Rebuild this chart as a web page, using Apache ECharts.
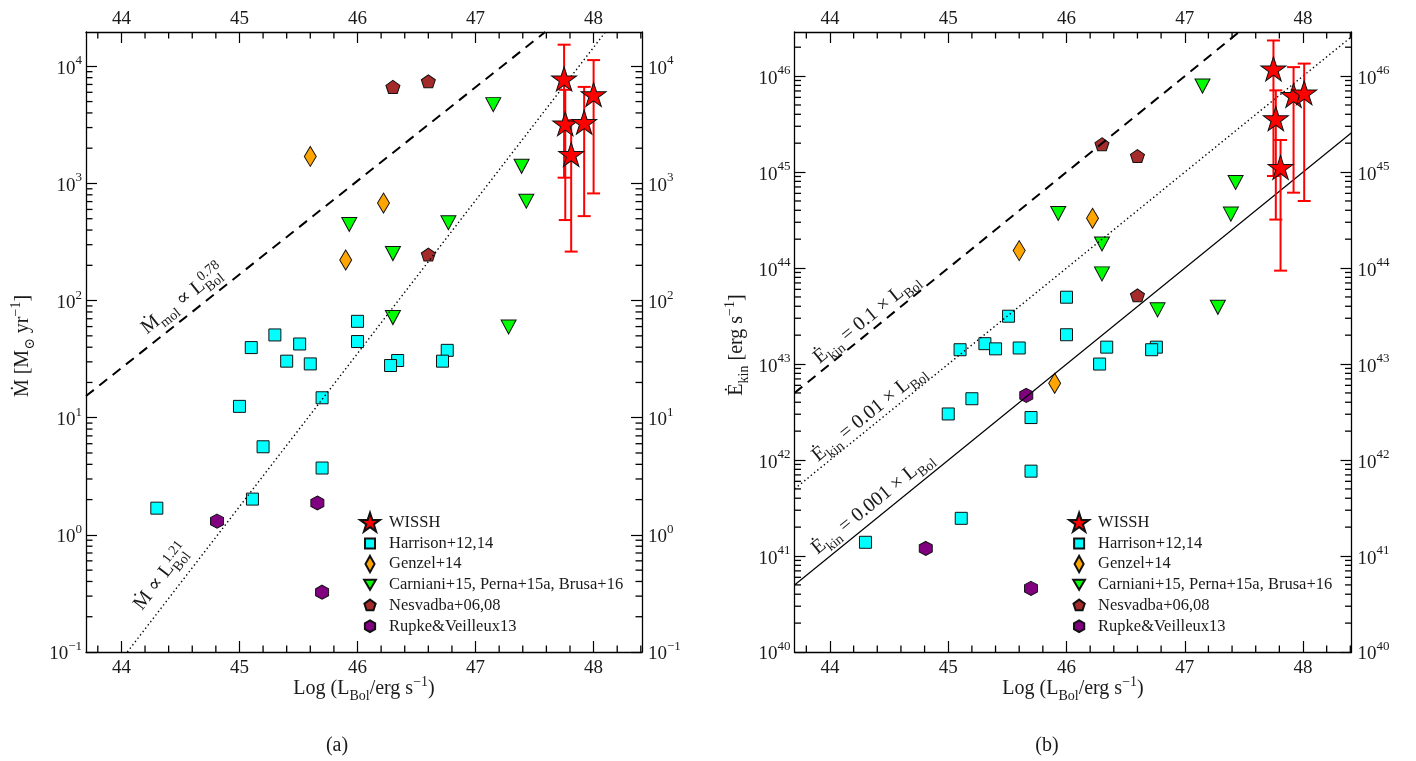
<!DOCTYPE html>
<html><head><meta charset="utf-8">
<script src="https://cdn.jsdelivr.net/npm/echarts@6/dist/echarts.min.js"></script>
<style>html,body{margin:0;padding:0;background:#fff}#c{width:1416px;height:761px}</style>
</head><body><div id="c"></div>
<script>
// ---------------- data ----------------
const xRange = [43.7, 48.41];
const yRangeMdot = [0.1, 19630];
const yRangeEkin = [1e40, 2.88e46];
const xTickLabels = [44, 45, 46, 47, 48];
const yTicksMdot = [0.1, 1, 10, 100, 1000, 10000];
const yTicksEkin = [1e40, 1e41, 1e42, 1e43, 1e44, 1e45, 1e46];

const seriesNames = ['WISSH', 'Harrison+12,14', 'Genzel+14', 'Carniani+15, Perna+15a, Brusa+16', 'Nesvadba+06,08', 'Rupke&Veilleux13'];

// panel (a): Mdot [Msun/yr]
const wisshMdot = [[47.75, 7820], [48.00, 5740], [47.76, 3230], [47.92, 3330], [47.81, 1770]];
const wisshMdotErr = [[47.75, 1120, 15300], [48.00, 822, 11300], [47.76, 487, 6300], [47.92, 526, 6670], [47.81, 262, 3470]];
const harrisonMdot = [[46.00, 66.5], [45.30, 50.9], [45.10, 39.7], [45.51, 42.6], [46.00, 44.7], [45.40, 30.4], [45.60, 28.8], [46.34, 30.8], [46.28, 27.9], [46.76, 37.6], [46.72, 30.4], [45.70, 14.8], [45.00, 12.5], [45.20, 5.65], [45.70, 3.72], [45.11, 2.02], [44.30, 1.69]];
const genzelMdot = [[45.60, 1700], [46.22, 680], [45.90, 222]];
const carnianiMdot = [[47.15, 4710], [47.39, 1400], [47.43, 706], [45.93, 447], [46.77, 462], [46.30, 252], [46.30, 71.6], [47.28, 59.6]];
const nesvadbaMdot = [[46.30, 6670], [46.60, 7450], [46.60, 247]];
const rupkeMdot = [[44.81, 1.31], [45.66, 1.87], [45.70, 0.324]];
const linesMdot = [[[43.7, 15.3], [47.59, 19630]], [[44.05, 0.1], [48.10, 19630]]];
const lineLabelPosMdot = [[44.52, 102.6], [44.34, 0.437]];
const lineLabelTextMdot = [
  [{t: 'Ṁ'}, {sub: 'mol'}, {t: ' ∝ L'}, {sup: '0.78', sub: 'Bol'}],
  [{t: 'Ṁ ∝ L'}, {sup: '1.21', sub: 'Bol'}]
];

// panel (b): Ekin [erg/s]
const wisshEkin = [[47.75, 1.19e46], [47.92, 6.3e45], [48.01, 6.7e45], [47.77, 3.6e45], [47.81, 1.12e45]];
const wisshEkinErr = [[47.75, 9.1e44, 2.35e46], [47.92, 6.1e44, 1.24e46], [48.01, 5.0e44, 1.35e46], [47.77, 3.2e44, 7.1e45], [47.81, 9.4e43, 2.16e45]];
const harrisonEkin = [[46.00, 4.97e43], [45.51, 3.15e43], [46.00, 2.02e43], [45.10, 1.41e43], [45.31, 1.63e43], [45.40, 1.44e43], [45.60, 1.47e43], [46.34, 1.5e43], [46.28, 1.0e43], [46.76, 1.5e43], [46.72, 1.41e43], [45.20, 4.35e42], [45.00, 3.02e42], [45.70, 2.77e42], [45.70, 7.66e41], [45.11, 2.47e41], [44.30, 1.39e41]];
const genzelEkin = [[45.60, 1.52e44], [46.22, 3.3e44], [45.90, 6.3e42]];
const carnianiEkin = [[47.15, 7.87e45], [47.43, 7.8e44], [47.39, 3.65e44], [45.93, 3.7e44], [46.30, 1.78e44], [46.30, 8.7e43], [46.77, 3.67e43], [47.28, 3.9e43]];
const nesvadbaEkin = [[46.30, 1.95e45], [46.60, 1.47e45], [46.60, 5.2e43]];
const rupkeEkin = [[44.81, 1.2e41], [45.66, 4.72e42], [45.70, 4.6e40]];
const linesEkin = [[[43.7, 5.0e42], [48.41, 2.57e47]], [[43.7, 5.0e41], [48.41, 2.57e46]], [[43.7, 5.0e40], [48.41, 2.57e45]]];
const lineLabelPosEkin = [[44.31, 2.96e43], [44.33, 3.04e42], [44.36, 3.53e41]];
const lineLabelTextEkin = [
  [{t: 'Ė'}, {sub: 'kin'}, {t: ' = 0.1 × L'}, {sub: 'Bol'}],
  [{t: 'Ė'}, {sub: 'kin'}, {t: ' = 0.01 × L'}, {sub: 'Bol'}],
  [{t: 'Ė'}, {sub: 'kin'}, {t: ' = 0.001 × L'}, {sub: 'Bol'}]
];

// ---------------- styles ----------------
const FONT = '"Liberation Serif","DejaVu Serif",serif';
const TXT = '#1a1a1a';
const TICK = {color: '#000', width: 1.2};
const colors = ['#ff0000', '#00ffff', '#ffa500', '#00ff00', '#a52a2a', '#800080'];
const STAR = 'path://M0,-10L2.245,-3.09L9.511,-3.09L3.633,1.18L5.878,8.09L0,3.82L-5.878,8.09L-3.633,1.18L-9.511,-3.09L-2.245,-3.09Z';
const TRI = 'path://M-1,-1L1,-1L0,1Z';
const PENT = 'path://M0,-10L9.511,-3.09L5.878,8.09L-5.878,8.09L-9.511,-3.09Z';
const HEX = 'path://M0,-10L8.66,-5L8.66,5L0,10L-8.66,5L-8.66,-5Z';
const symbols = [STAR, 'rect', 'diamond', TRI, PENT, HEX];
const symbolSizes = [[25, 24], 12, [12, 20], [15, 14], [14, 13], [13, 14]];
const FRAME = 'M-11,-11L-11,-11M11,11L11,11';
const legendIcons = [
  'path://M-10,-9.2L-10,-9.2M10,9.2L10,9.2M0,-10L2.245,-3.09L9.511,-3.09L3.633,1.18L5.878,8.09L0,3.82L-5.878,8.09L-3.633,1.18L-9.511,-3.09L-2.245,-3.09Z',
  'path://' + FRAME + 'M-5.5,-5.5L5.5,-5.5L5.5,5.5L-5.5,5.5Z',
  'path://' + FRAME + 'M0,-9L5,0L0,9L-5,0Z',
  'path://' + FRAME + 'M-6.5,-5.5L6.5,-5.5L0,5.5Z',
  'path://' + FRAME + 'M0,-6.5L6.18,-2.01L3.82,5.26L-3.82,5.26L-6.18,-2.01Z',
  'path://' + FRAME + 'M0,-6.5L5.63,-3.25L5.63,3.25L0,6.5L-5.63,3.25L-5.63,-3.25Z'
];

// ---------------- helpers ----------------
const ctx2d = document.createElement('canvas').getContext('2d');
function textWidth(t, size) { ctx2d.font = size + 'px ' + FONT; return ctx2d.measureText(t).width; }
function mathText(parts, f, color) {
  const fs = f * 0.7;
  let x = 0; const items = [];
  for (const p of parts) {
    if (p.sub !== undefined && p.sup !== undefined) {
      items.push({t: p.sup, x, dy: -0.42 * f, s: fs});
      items.push({t: p.sub, x, dy: 0.26 * f, s: fs});
      x += Math.max(textWidth(p.sup, fs), textWidth(p.sub, fs));
    } else if (p.sub !== undefined) {
      items.push({t: p.sub, x, dy: 0.26 * f, s: fs}); x += textWidth(p.sub, fs);
    } else if (p.sup !== undefined) {
      items.push({t: p.sup, x, dy: -0.42 * f, s: fs}); x += textWidth(p.sup, fs);
    } else {
      items.push({t: p.t, x, dy: 0, s: f}); x += textWidth(p.t, f);
    }
  }
  const W = x;
  return items.map(it => ({
    type: 'text', x: it.x - W / 2, y: 0.34 * f + it.dy - 0.34 * it.s,
    style: {text: it.t, fontSize: it.s, fontFamily: FONT, fill: color,
      textAlign: 'left', textVerticalAlign: 'middle', align: 'left', verticalAlign: 'middle'}
  }));
}
function minorLog(lo, hi) {
  const out = [];
  for (let k = Math.floor(Math.log10(lo)); k <= Math.ceil(Math.log10(hi)); k++)
    for (let m = 2; m <= 9; m++) { const v = m * Math.pow(10, k); if (v > lo * 1.0001 && v < hi) out.push(v); }
  return out;
}
const xMinorTicks = [];
for (let i = 219; i <= 242; i++) if (i % 5 !== 0) xMinorTicks.push(+(i * 0.2).toFixed(1));

function powLabel(v) {
  const e = Math.log10(v);
  const r = Math.round(e);
  if (Math.abs(e - r) > 1e-6) return '';
  return '{b|10}{s|' + (r < 0 ? '−' + (-r) : String(r)) + '}';
}
const RICH = {
  b: {fontSize: 19, fontFamily: FONT, color: TXT, lineHeight: 24, verticalAlign: 'bottom'},
  s: {fontSize: 13, fontFamily: FONT, color: TXT, lineHeight: 13, verticalAlign: 'top'}
};

function xAxes(grid) {
  const base = {type: 'value', gridIndex: grid, min: xRange[0], max: xRange[1], splitLine: {show: false},
    axisLine: {show: true, onZero: false, lineStyle: {color: '#000', width: 1.3}}};
  const lab = {show: true, fontSize: 19, fontFamily: FONT, color: TXT, customValues: xTickLabels,
    formatter: v => xTickLabels.includes(v) ? String(v) : ''};
  return [
    Object.assign({}, base, {position: 'bottom', axisTick: {show: true, inside: true, length: 11, customValues: xTickLabels, lineStyle: TICK}, axisLabel: Object.assign({}, lab, {margin: 7})}),
    Object.assign({}, base, {position: 'top', axisTick: {show: true, inside: true, length: 11, customValues: xTickLabels, lineStyle: TICK}, axisLabel: Object.assign({}, lab, {margin: 3})})
  ];
}
function yAxes(grid, range, major) {
  const base = {type: 'log', logBase: 10, gridIndex: grid, min: range[0], max: range[1], splitLine: {show: false},
    axisLine: {show: true, onZero: false, lineStyle: {color: '#000', width: 1.3}}};
  const lab = {show: true, fontFamily: FONT, color: TXT, customValues: major, formatter: powLabel, rich: RICH};
  return [
    Object.assign({}, base, {position: 'left', axisTick: {show: true, inside: true, length: 11, customValues: major, lineStyle: TICK}, axisLabel: Object.assign({}, lab, {margin: 4})}),
    Object.assign({}, base, {position: 'right', axisTick: {show: true, inside: true, length: 11, customValues: major, lineStyle: TICK}, axisLabel: Object.assign({}, lab, {margin: 6})})
  ];
}

function errSeries(data, ai) {
  return {type: 'custom', name: 'err', xAxisIndex: ai, yAxisIndex: ai, z: 5, silent: true,
    encode: {x: 0, y: 1}, data: data,
    renderItem: (params, api) => {
      const x = api.value(0);
      const a = api.coord([x, api.value(2)]), b = api.coord([x, api.value(1)]);
      const w = 6.5, st = {stroke: '#ff0000', lineWidth: 2};
      return {type: 'group', children: [
        {type: 'line', shape: {x1: a[0], y1: a[1], x2: b[0], y2: b[1]}, style: st},
        {type: 'line', shape: {x1: a[0] - w, y1: a[1], x2: a[0] + w, y2: a[1]}, style: st},
        {type: 'line', shape: {x1: b[0] - w, y1: b[1], x2: b[0] + w, y2: b[1]}, style: st}
      ]};
    }};
}
function labelSeries(pos, texts, lines, ai) {
  return {type: 'custom', name: 'lbl', xAxisIndex: ai, yAxisIndex: ai, z: 8, silent: true,
    encode: {x: 0, y: 1}, data: pos,
    renderItem: (params, api) => {
      const i = params.dataIndex;
      const c = api.coord([api.value(0), api.value(1)]);
      const L = lines[i];
      const a = api.coord(L[0]), b = api.coord(L[1]);
      const ang = Math.atan2(a[1] - b[1], b[0] - a[0]);
      return {type: 'group', x: c[0], y: c[1], rotation: ang, children: mathText(texts[i], 20, TXT)};
    }};
}
const lineStyles = [
  {color: '#000', width: 2, type: [10, 7]},
  {color: '#000', width: 1.4, type: [1.4, 2.8]},
  {color: '#000', width: 1.2, type: 'solid'}
];
function panelSeries(ai, sets, errs, lines, lblPos, lblTxt) {
  const out = [];
  for (let k = 1; k < 6; k++) {
    out.push({type: 'scatter', name: seriesNames[k], xAxisIndex: ai, yAxisIndex: ai, data: sets[k],
      symbol: symbols[k], symbolSize: symbolSizes[k], z: 2,
      itemStyle: {color: colors[k], borderColor: '#111', borderWidth: 1, opacity: 1}});
  }
  lines.forEach((ln, i) => {
    out.push({type: 'line', name: 'line' + i, xAxisIndex: ai, yAxisIndex: ai, data: ln, symbol: 'none',
      lineStyle: lineStyles[i], z: 4, silent: true, clip: true});
  });
  out.push(errSeries(errs, ai));
  out.push({type: 'scatter', name: seriesNames[0], xAxisIndex: ai, yAxisIndex: ai, data: sets[0],
    symbol: symbols[0], symbolSize: symbolSizes[0], z: 6,
    itemStyle: {color: colors[0], borderColor: '#111', borderWidth: 1, opacity: 1}});
  out.push(labelSeries(lblPos, lblTxt, lines, ai));
  return out;
}

// ---------------- chart ----------------
const chart = echarts.init(document.getElementById('c'), null, {renderer: 'canvas'});
const legendBase = {orient: 'vertical', itemWidth: 28, itemHeight: 20, itemGap: -1.3, selectedMode: false, padding: 0,
  textStyle: {fontSize: 16.5, lineHeight: 20, fontFamily: FONT, color: TXT},
  data: seriesNames.map((n, i) => ({name: n, icon: legendIcons[i]}))};

const baseGraphic = [
  {type: 'group', x: 364, y: 689, silent: true, children: mathText([{t: 'Log (L'}, {sub: 'Bol'}, {t: '/erg s'}, {sup: '−1'}, {t: ')'}], 20, TXT)},
  {type: 'group', x: 1073, y: 689, silent: true, children: mathText([{t: 'Log (L'}, {sub: 'Bol'}, {t: '/erg s'}, {sup: '−1'}, {t: ')'}], 20, TXT)},
  {type: 'group', x: 23, y: 346, rotation: Math.PI / 2, silent: true, children: mathText([{t: 'Ṁ [M'}, {sub: '⊙'}, {t: ' yr'}, {sup: '−1'}, {t: ']'}], 20, TXT)},
  {type: 'group', x: 737, y: 345, rotation: Math.PI / 2, silent: true, children: mathText([{t: 'Ė'}, {sub: 'kin'}, {t: ' [erg s'}, {sup: '−1'}, {t: ']'}], 20, TXT)},
  {type: 'group', x: 337, y: 746, silent: true, children: mathText([{t: '(a)'}], 20, TXT)},
  {type: 'group', x: 1047, y: 746, silent: true, children: mathText([{t: '(b)'}], 20, TXT)}
];

const option = {
  animation: false,
  backgroundColor: '#fff',
  grid: [
    {left: 86, top: 32, width: 556, height: 620},
    {left: 794.5, top: 32, width: 557, height: 620}
  ],
  xAxis: [].concat(xAxes(0), xAxes(1)),
  yAxis: [].concat(yAxes(0, yRangeMdot, yTicksMdot), yAxes(1, yRangeEkin, yTicksEkin)),
  legend: [
    Object.assign({}, legendBase, {left: 358.6, top: 511.7}),
    Object.assign({}, legendBase, {left: 1067.7, top: 511.7})
  ],
  series: [].concat(
    panelSeries(0, [wisshMdot, harrisonMdot, genzelMdot, carnianiMdot, nesvadbaMdot, rupkeMdot], wisshMdotErr, linesMdot, lineLabelPosMdot, lineLabelTextMdot),
    panelSeries(2, [wisshEkin, harrisonEkin, genzelEkin, carnianiEkin, nesvadbaEkin, rupkeEkin], wisshEkinErr, linesEkin, lineLabelPosEkin, lineLabelTextEkin)
  ),
  graphic: baseGraphic
};
chart.setOption(option);

// minor ticks: positions obtained from the axes' own scales via convertToPixel
const minorEls = [];
[[0, yRangeMdot], [2, yRangeEkin]].forEach(([ai, yr]) => {
  const finder = {xAxisIndex: ai, yAxisIndex: ai};
  const st = {stroke: '#000', lineWidth: 1.3};
  const L = 6.5;
  xMinorTicks.forEach(v => {
    const b = chart.convertToPixel(finder, [v, yr[0]]);
    const t = chart.convertToPixel(finder, [v, yr[1]]);
    if (!b || !t) return;
    minorEls.push({type: 'line', silent: true, z: 10, shape: {x1: b[0], y1: b[1], x2: b[0], y2: b[1] - L}, style: st});
    minorEls.push({type: 'line', silent: true, z: 10, shape: {x1: t[0], y1: t[1], x2: t[0], y2: t[1] + L}, style: st});
  });
  minorLog(yr[0], yr[1]).forEach(v => {
    const l = chart.convertToPixel(finder, [xRange[0], v]);
    const r = chart.convertToPixel(finder, [xRange[1], v]);
    if (!l || !r) return;
    minorEls.push({type: 'line', silent: true, z: 10, shape: {x1: l[0], y1: l[1], x2: l[0] + L, y2: l[1]}, style: st});
    minorEls.push({type: 'line', silent: true, z: 10, shape: {x1: r[0], y1: r[1], x2: r[0] - L, y2: r[1]}, style: st});
  });
});
chart.setOption({graphic: baseGraphic.concat(minorEls)});
</script>
</body></html>
